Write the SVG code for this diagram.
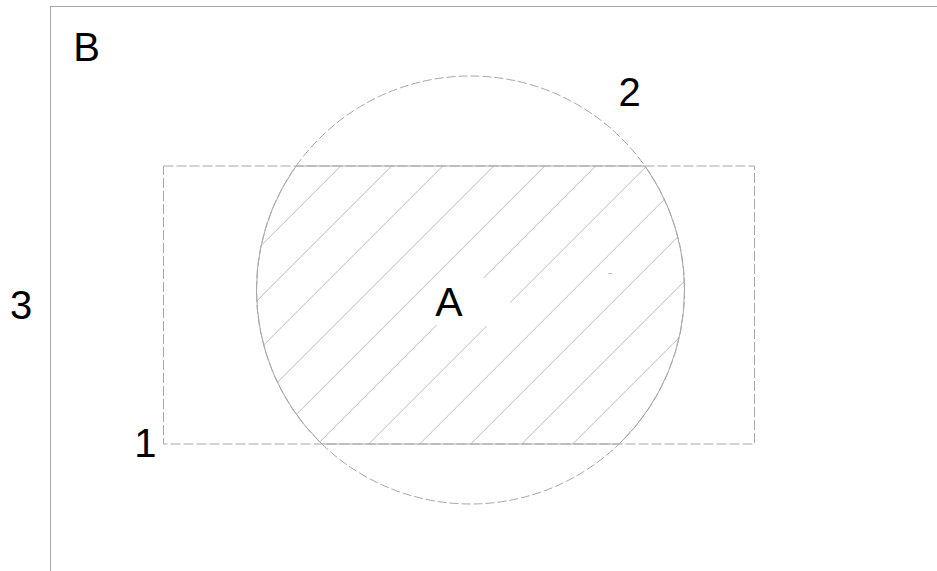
<svg xmlns="http://www.w3.org/2000/svg" width="937" height="571" viewBox="0 0 937 571">
<style>
.ln{fill:none;stroke:#a8a8a8;stroke-width:1}
.dr{stroke-dasharray:10 3}
.dc{stroke-dasharray:9 3}
.h{stroke:#bdbdbd;stroke-width:1}
.t{font-family:"Liberation Sans",Arial,sans-serif;font-size:40px;fill:#000;text-anchor:middle}
</style>
<defs>
<clipPath id="cr"><rect x="163.5" y="166" width="591" height="278"/></clipPath>
<clipPath id="cc"><circle cx="470.5" cy="290" r="214"/></clipPath>
<mask id="gap" maskUnits="userSpaceOnUse" x="0" y="0" width="937" height="571">
<rect x="0" y="0" width="937" height="571" fill="#fff"/>
<rect x="436.5" y="278" width="73.5" height="48" fill="#000"/>
</mask>
</defs>
<rect width="937" height="571" fill="#fff"/>
<g id="frame">
<line class="ln" x1="50" y1="6.5" x2="937" y2="6.5"/>
<line class="ln" x1="50.5" y1="6" x2="50.5" y2="571"/>
</g>
<g id="hatch" clip-path="url(#cr)">
<g clip-path="url(#cc)">
<g mask="url(#gap)" class="h">
<line x1="6.7" y1="500" x2="506.7" y2="0"/>
<line x1="57.7" y1="500" x2="557.7" y2="0"/>
<line x1="108.7" y1="500" x2="608.7" y2="0"/>
<line x1="159.7" y1="500" x2="659.7" y2="0"/>
<line x1="210.7" y1="500" x2="710.7" y2="0"/>
<line x1="261.7" y1="500" x2="761.7" y2="0"/>
<line x1="312.7" y1="500" x2="812.7" y2="0"/>
<line x1="363.7" y1="500" x2="863.7" y2="0"/>
<line x1="414.7" y1="500" x2="914.7" y2="0"/>
<line x1="465.7" y1="500" x2="965.7" y2="0"/>
<line x1="516.7" y1="500" x2="1016.7" y2="0"/>
<line x1="567.7" y1="500" x2="1067.7" y2="0"/>
</g>
</g>
<line class="h" x1="608.3" y1="273.5" x2="612.3" y2="273.5"/>
</g>
<g id="circle">
<circle class="ln dc" cx="470.5" cy="290" r="214"/>
<circle class="ln" cx="470.5" cy="290" r="214" clip-path="url(#cr)"/>
</g>
<g id="rectangle">
<rect class="ln dr" x="163.5" y="166" width="591" height="278"/>
<rect class="ln" x="163.5" y="166" width="591" height="278" clip-path="url(#cc)"/>
</g>
<g id="labels">
<text class="t" x="86.5" y="61" font-size="42">B</text>
<text class="t" x="449" y="316" style="font-size:41px">A</text>
<text class="t" x="629.7" y="106">2</text>
<text class="t" x="21.2" y="319">3</text>
<text class="t" x="145.3" y="457">1</text>
</g>
</svg>
